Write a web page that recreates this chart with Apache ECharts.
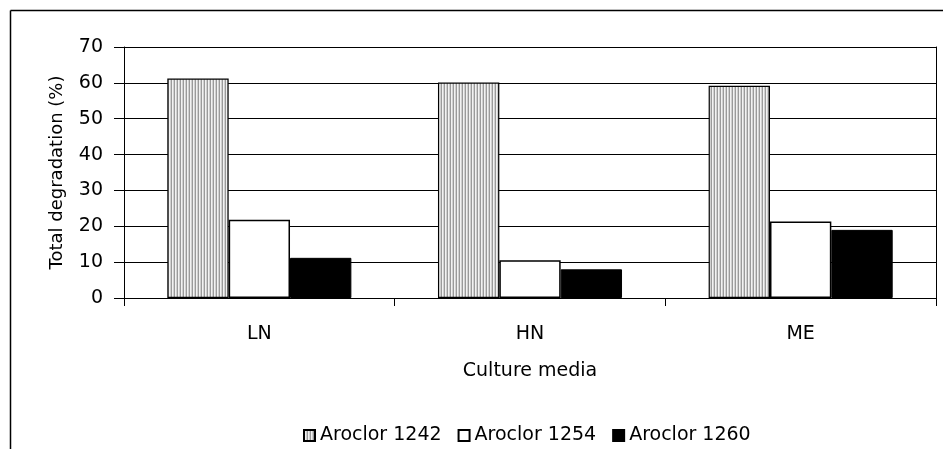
<!DOCTYPE html>
<html><head><meta charset="utf-8">
<script src="https://cdn.jsdelivr.net/npm/echarts@6/dist/echarts.min.js"></script>
<style>html,body{margin:0;padding:0;background:#fff}#c{width:943px;height:449px}</style>
</head><body><div id="c"></div>
<script>
const categories = ['LN', 'HN', 'ME'];
const seriesNames = ['Aroclor 1242', 'Aroclor 1254', 'Aroclor 1260'];
const aroclor1242 = [61.2, 60.1, 59.2];
const aroclor1254 = [21.8, 10.5, 21.3];
const aroclor1260 = [11.2, 8.0, 19.0];
const yTicks = [0, 10, 20, 30, 40, 50, 60, 70];

const pc = document.createElement('canvas');
pc.width = 3; pc.height = 4;
const g = pc.getContext('2d');
g.fillStyle = '#f2f2f2'; g.fillRect(0, 0, 3, 4);
g.fillStyle = '#9a9a9a'; g.fillRect(0, 0, 1, 4);
g.fillStyle = '#d0d0d0'; g.fillRect(2, 0, 1, 4);

const font = 'DejaVu Sans';
const chart = echarts.init(document.getElementById('c'), null, {renderer: 'canvas'});
chart.setOption({
  animation: false,
  backgroundColor: '#fff',
  textStyle: {fontFamily: font},
  grid: {left: 124, right: 7, top: 47, bottom: 151, containLabel: false},
  legend: {
    left: 298, top: 421, itemWidth: 11, itemHeight: 11, itemGap: 16, icon: 'rect',
    textStyle: {fontFamily: font, fontSize: 19, color: '#000'},
    data: seriesNames
  },
  xAxis: {
    type: 'category', data: categories,
    name: 'Culture media', nameLocation: 'middle', nameGap: 64,
    nameTextStyle: {fontFamily: font, fontSize: 19, color: '#000'},
    axisLine: {lineStyle: {color: '#000', width: 1}},
    axisTick: {show: true, length: 8, lineStyle: {color: '#000'}},
    axisLabel: {margin: 27, fontFamily: font, fontSize: 19, color: '#000'},
    splitLine: {show: false}
  },
  yAxis: [{
    type: 'value', min: yTicks[0], max: yTicks[yTicks.length - 1], interval: 10,
    name: 'Total degradation (%)', nameLocation: 'middle', nameGap: 58,
    nameTextStyle: {fontFamily: font, fontSize: 18, color: '#000'},
    axisLine: {show: true, lineStyle: {color: '#000', width: 1}},
    axisTick: {show: true, length: 10, lineStyle: {color: '#000'}},
    axisLabel: {margin: 21, fontFamily: font, fontSize: 19, color: '#000'},
    splitLine: {show: true, lineStyle: {color: '#000', width: 1}}
  }, {
    type: 'value', position: 'right', min: 0, max: 70, interval: 10,
    axisLine: {show: true, lineStyle: {color: '#000', width: 1}},
    axisTick: {show: false}, axisLabel: {show: false}, splitLine: {show: false}
  }],
  series: [
    {name: seriesNames[0], type: 'bar', data: aroclor1242, barGap: '0%', barCategoryGap: '32%',
     itemStyle: {color: {image: pc, repeat: 'repeat'}, borderColor: '#000', borderWidth: 1.2}},
    {name: seriesNames[1], type: 'bar', data: aroclor1254, barGap: '0%', barCategoryGap: '32%',
     itemStyle: {color: '#fff', borderColor: '#000', borderWidth: 1.5}},
    {name: seriesNames[2], type: 'bar', data: aroclor1260, barGap: '0%', barCategoryGap: '32%',
     itemStyle: {color: '#000', borderColor: '#000', borderWidth: 1}}
  ],
  graphic: [
    {type: 'line', shape: {x1: 10.5, y1: 10.5, x2: 943, y2: 10.5}, style: {stroke: '#000', lineWidth: 1.5}},
    {type: 'line', shape: {x1: 10.5, y1: 10.5, x2: 10.5, y2: 449}, style: {stroke: '#000', lineWidth: 1.5}}
  ]
});
</script></body></html>
